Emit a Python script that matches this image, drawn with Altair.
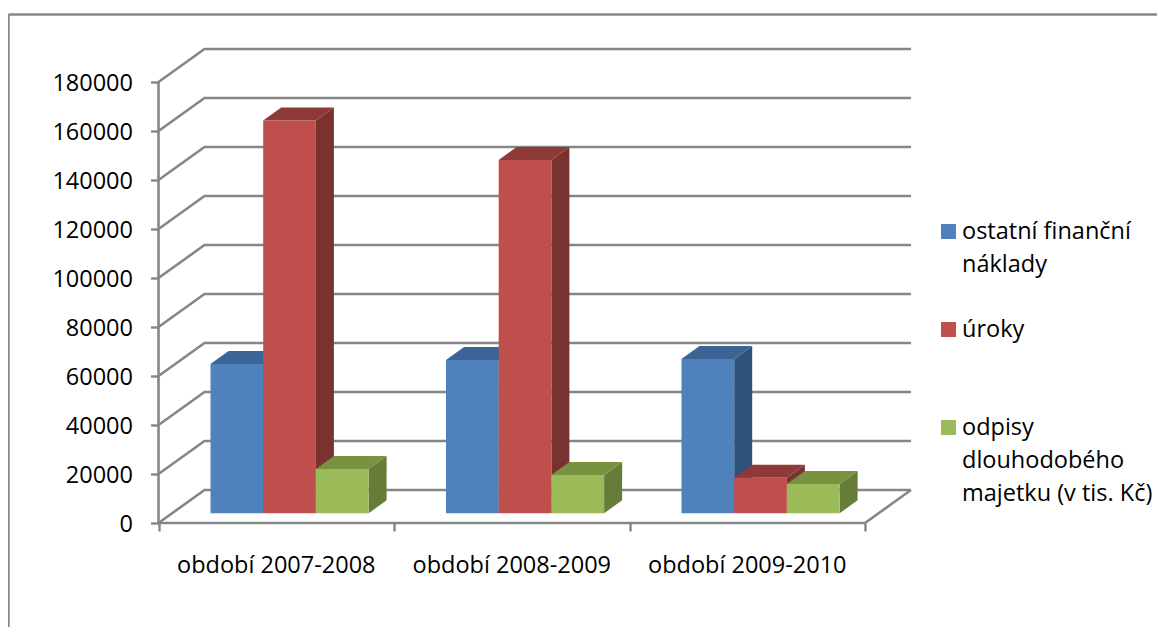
import altair as alt
import pandas as pd

categories = ["období 2007-2008", "období 2008-2009", "období 2009-2010"]
series_names = ["ostatní finanční náklady", "úroky", "odpisy dlouhodobého majetku (v tis. Kč)"]
ostatni = [60900, 62600, 63000]
uroky = [160300, 144200, 14500]
odpisy = [18100, 15600, 12000]
y_ticks = [0, 20000, 40000, 60000, 80000, 100000, 120000, 140000, 160000, 180000]
legend_lines = [["ostatní finanční", "náklady"], ["úroky"], ["odpisy", "dlouhodobého", "majetku (v tis. Kč)"]]

front = ["#4F81BD", "#BE4F4C", "#9BBB59"]
top_c = ["#3C6494", "#8E3A38", "#789240"]
side = ["#2F527A", "#7A3230", "#667C38"]
GRID = "#868686"
FONT = "Open Sans"
FS = 23.5

# layout: page pixels -> data units
W, H = 1149, 619
PX_CAT = 235.5
PX_VAL = 441 / 180000
X0, Y0 = 158.5, 523.0
x_dom = [(8 - X0) / PX_CAT, (8 + W - X0) / PX_CAT]
y_dom = [(Y0 - (8 + H)) / PX_VAL, (Y0 - 8) / PX_VAL]
xs = alt.Scale(domain=x_dom, nice=False, zero=False)
ys = alt.Scale(domain=y_dom, nice=False, zero=False)
X = lambda f: alt.X(f, type="quantitative", scale=xs)
Y = lambda f: alt.Y(f, type="quantitative", scale=ys)

wall_dx, wall_dy = 46 / PX_CAT, 33 / PX_VAL
bar_dx, bar_dy = 18 / PX_CAT, 13 / PX_VAL
bar_base = 9.7 / PX_VAL
bar_start, bar_w = 52 / PX_CAT, 52.7 / PX_CAT

layers = []

# real axes, moved onto the chart's corner (first layer, so that its settings win)
axis_df = pd.DataFrame({"x": [0, 1, 2, 3], "y": [0, 0, 0, 0]})
layers.append(alt.Chart(axis_df).mark_point(opacity=0).encode(
    x=alt.X("x:Q", scale=xs, title=None, axis=alt.Axis(
        values=[0, 1, 2, 3], labels=False, domain=False, grid=False, tickColor=GRID,
        tickWidth=2.4, tickSize=8, offset=-(8 + H - Y0))),
    y=alt.Y("y:Q", scale=ys, title=None, axis=alt.Axis(
        values=y_ticks, format="d", domain=False, grid=False, tickColor=GRID, tickWidth=2.4,
        tickSize=8, labelPadding=18, labelFont=FONT, labelFontSize=FS, labelColor="#000000",
        offset=-(X0 - 8), labelBaseline="middle", labelOffset=1.5)),
))

# frame
frame = pd.DataFrame({"a": [0]})
layers.append(alt.Chart(frame).mark_rule(color=GRID, strokeWidth=2.4).encode(
    x=alt.value(0.5), x2=alt.value(W), y=alt.value(14.5 - 8)))
layers.append(alt.Chart(frame).mark_rule(color=GRID, strokeWidth=2.4).encode(
    x=alt.value(0.5), y=alt.value(14.5 - 8), y2=alt.value(H)))

# gridlines on the side and back walls
rows = []
for v in y_ticks:
    rows += [{"v": v, "o": 0, "x": 0, "y": v},
             {"v": v, "o": 1, "x": wall_dx, "y": v + wall_dy},
             {"v": v, "o": 2, "x": 3 + wall_dx, "y": v + wall_dy}]
layers.append(alt.Chart(pd.DataFrame(rows)).mark_line(color=GRID, strokeWidth=2.6).encode(
    x=X("x"), y=Y("y"), detail="v:N", order="o:Q"))

# floor edge and wall edge
floor = pd.DataFrame({"x": [0, 3, 3 + wall_dx], "y": [0, 0, wall_dy], "o": [0, 1, 2]})
layers.append(alt.Chart(floor).mark_line(color=GRID, strokeWidth=2.6).encode(
    x=X("x"), y=Y("y"), order="o:Q"))
edge = pd.DataFrame({"x": [0, 0], "y": [0, 180000], "o": [0, 1]})
layers.append(alt.Chart(edge).mark_line(color=GRID, strokeWidth=2.6).encode(
    x=X("x"), y=Y("y"), order="o:Q"))

# bars: side, top, front, painted back to front
for s, values in enumerate([ostatni, uroky, odpisy]):
    side_rows, top_rows, front_rows = [], [], []
    for c, v in enumerate(values):
        x0 = c + bar_start + s * bar_w
        x1 = x0 + bar_w
        t = v + bar_base
        side_rows += [{"c": c, "x": x1, "y": t, "y2": bar_base},
                      {"c": c, "x": x1 + bar_dx, "y": t + bar_dy, "y2": bar_base + bar_dy}]
        top_rows += [{"c": c, "x": x0, "x2": x1, "y": t},
                     {"c": c, "x": x0 + bar_dx, "x2": x1 + bar_dx, "y": t + bar_dy}]
        front_rows.append({"x": x0, "x2": x1, "y": t, "y2": bar_base})
    layers.append(alt.Chart(pd.DataFrame(side_rows)).mark_area(
        color=side[s], orient="vertical").encode(
        x=X("x"), y=Y("y"), y2="y2:Q", detail="c:N"))
    layers.append(alt.Chart(pd.DataFrame(top_rows)).mark_area(
        color=top_c[s], orient="horizontal").encode(
        x=X("x"), x2="x2:Q", y=Y("y"), detail="c:N"))
    layers.append(alt.Chart(pd.DataFrame(front_rows)).mark_rect(color=front[s]).encode(
        x=X("x"), x2="x2:Q", y=Y("y"), y2="y2:Q"))

# category labels
cat_df = pd.DataFrame({"x": [i + 0.5 for i in range(3)], "t": categories})
layers.append(alt.Chart(cat_df).mark_text(
    font=FONT, fontSize=FS, color="#000000", baseline="alphabetic", align="center").encode(
    x=X("x"), y=alt.value(573 - 8), text="t:N"))

# legend
for i, name in enumerate(series_names):
    top_px = 224 + i * 98
    d = pd.DataFrame({"series": [name]})
    layers.append(alt.Chart(d).mark_rect(color=front[i]).encode(
        x=alt.value(941 - 8), x2=alt.value(956 - 8),
        y=alt.value(top_px - 8), y2=alt.value(top_px + 15 - 8)))
    layers.append(alt.Chart(d).mark_text(
        text=legend_lines[i], font=FONT, fontSize=FS, color="#000000", align="left",
        baseline="alphabetic", lineHeight=32.8).encode(
        x=alt.value(962 - 8), y=alt.value(top_px + 15 - 8)))

chart = alt.layer(*layers).properties(
    width=W, height=H, padding=0, autosize=alt.AutoSizeParams(type="none"),
).configure_view(stroke=None)

chart.save("out.html", embed_options={"renderer": "svg", "actions": False})
